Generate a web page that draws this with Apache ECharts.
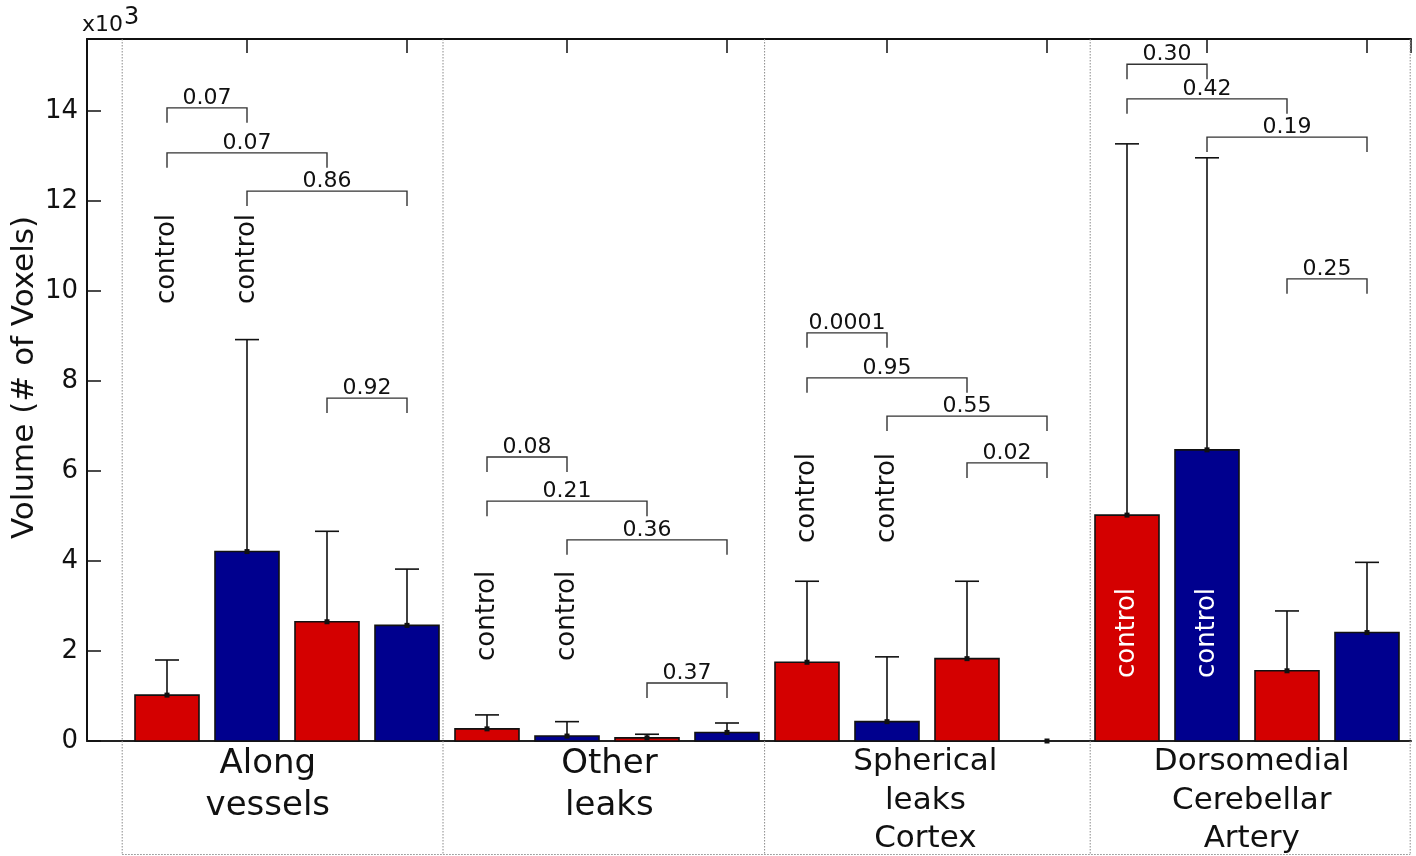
<!DOCTYPE html>
<html>
<head>
<meta charset="utf-8">
<script src="https://cdn.jsdelivr.net/npm/echarts@6/dist/echarts.min.js"></script>
<style>
html,body{margin:0;padding:0;background:#fff;}
#chart{width:1416px;height:856px;}
</style>
</head>
<body>
<div id="chart"></div>
<script>
// ---- data (values in thousands of voxels) ----
const categories = ['Along\nvessels', 'Other\nleaks', 'Spherical\nleaks\nCortex', 'Dorsomedial\nCerebellar\nArtery'];
const categoryX = [2.26, 6.53, 10.48, 14.56];
const groupEdges = [0.44, 4.45, 8.47, 12.54, 16.54];
const barX = [1, 2, 3, 4, 5, 6, 7, 8, 9, 10, 11, 12, 13, 14, 15, 16];
const means = [1.02, 4.21, 2.65, 2.57, 0.27, 0.11, 0.07, 0.19, 1.75, 0.43, 1.83, 0.00, 5.02, 6.47, 1.56, 2.41];
const upperErr = [1.80, 8.92, 4.66, 3.82, 0.58, 0.43, 0.15, 0.40, 3.55, 1.87, 3.55, 0.00, 13.27, 12.96, 2.89, 3.97];
// brackets: [from bar, to bar, level, p-value]
const brackets = [
  [1, 2, 14.07, '0.07'], [1, 3, 13.07, '0.07'], [2, 4, 12.22, '0.86'], [3, 4, 7.62, '0.92'],
  [5, 6, 6.31, '0.08'], [5, 7, 5.33, '0.21'], [6, 8, 4.47, '0.36'], [7, 8, 1.29, '0.37'],
  [9, 10, 9.07, '0.0001'], [9, 11, 8.07, '0.95'], [10, 12, 7.22, '0.55'], [11, 12, 6.18, '0.02'],
  [13, 14, 15.04, '0.30'], [13, 15, 14.27, '0.42'], [14, 16, 13.42, '0.19'], [15, 16, 10.27, '0.25']
];
// "control" labels: [bar, level, inside bar?]
const controlLabels = [
  [1, 10.71, 0], [2, 10.71, 0],
  [5, 2.78, 0], [6, 2.78, 0],
  [9, 5.40, 0], [10, 5.40, 0],
  [13, 2.40, 1], [14, 2.40, 1]
];
const yTicks = [0, 2, 4, 6, 8, 10, 12, 14];

const RED = '#d40000', BLUE = '#00008e';
const FONT = '"DejaVu Sans", "Liberation Sans", sans-serif';

const chart = echarts.init(document.getElementById('chart'), null, {renderer: 'canvas'});

const barData = barX.map((x, i) => [x, means[i], upperErr[i]]);

const option = {
  animation: false,
  backgroundColor: '#fff',
  grid: {left: 87, right: 5, top: 39, bottom: 115, containLabel: false},
  xAxis: [
    {type: 'value', position: 'bottom', min: 0, max: 16.55,
      axisLine: {show: true, onZero: false, lineStyle: {color: '#222', width: 2}},
      axisTick: {show: false}, axisLabel: {show: false}, splitLine: {show: false}},
    {type: 'value', position: 'top', min: 0, max: 16.55, interval: 2,
      axisLine: {show: true, onZero: false, lineStyle: {color: '#111', width: 2}},
      axisTick: {show: true, inside: true, length: 14, lineStyle: {color: '#111', width: 1.5}},
      axisLabel: {show: false}, splitLine: {show: false}}
  ],
  yAxis: {
    type: 'value', min: 0, max: 15.6, interval: 2,
    axisLine: {show: true, onZero: false, lineStyle: {color: '#111', width: 2}},
    axisTick: {show: true, inside: true, length: 14, lineStyle: {color: '#111', width: 1.5}},
    axisLabel: {
      margin: 9, fontSize: 26, color: '#111', fontFamily: FONT,
      formatter: v => (yTicks.indexOf(v) >= 0 ? String(v) : '')
    },
    splitLine: {show: false}
  },
  graphic: [
    {type: 'text', left: 9, top: 216, rotation: Math.PI / 2,
      style: {text: 'Volume (# of Voxels)', font: '31px ' + FONT, fill: '#111'}},
    {type: 'text', x: 82, y: 6,
      style: {text: '{a|x10}{b|3}', fill: '#111', rich: {
        a: {fontSize: 22, fontFamily: FONT, verticalAlign: 'bottom', lineHeight: 30},
        b: {fontSize: 24, fontFamily: FONT, verticalAlign: 'top', lineHeight: 30, padding: [0, 0, 10, 1]}
      }}}
  ],
  series: [
    // group boxes (dotted)
    {
      type: 'custom', clip: false, silent: true, z: 1,
      data: [0],
      renderItem: (params, api) => {
        const top = api.coord([0, 15.6])[1];
        const bottom = api.getHeight() - 1.5;
        const xs = groupEdges.map(g => api.coord([g, 0])[0]);
        const children = [];
        const ls = {stroke: '#8a8a8a', lineWidth: 1, lineDash: [1.5, 1.5], fill: null};
        xs.forEach(x => children.push({type: 'line', shape: {x1: x, y1: top, x2: x, y2: bottom}, style: ls}));
        children.push({type: 'line', shape: {x1: xs[0], y1: bottom, x2: xs[xs.length - 1], y2: bottom}, style: ls});
        return {type: 'group', children};
      }
    },
    // bars with upper error bars
    {
      type: 'custom', clip: false, z: 3,
      data: barData,
      encode: {x: 0, y: 1},
      renderItem: (params, api) => {
        const x = api.value(0), m = api.value(1), e = api.value(2);
        const p0 = api.coord([x, 0]);
        const pm = api.coord([x, m]);
        const pe = api.coord([x, e]);
        const w = api.size([0.8, 0])[0];
        const col = (params.dataIndex % 2 === 0) ? RED : BLUE;
        const children = [];
        if (m > 0) {
          children.push({type: 'rect', shape: {x: pm[0] - w / 2, y: pm[1], width: w, height: p0[1] - pm[1]},
            style: {fill: col, stroke: '#111', lineWidth: 1.6}});
        }
        if (e > m) {
          children.push({type: 'line', shape: {x1: pm[0], y1: pm[1], x2: pe[0], y2: pe[1]}, style: {stroke: '#111', lineWidth: 1.6}});
          children.push({type: 'line', shape: {x1: pe[0] - 12, y1: pe[1], x2: pe[0] + 12, y2: pe[1]}, style: {stroke: '#111', lineWidth: 1.6}});
        }
        children.push({type: 'rect', shape: {x: pm[0] - 2.5, y: pm[1] - 2.5, width: 5, height: 5}, style: {fill: '#111'}});
        return {type: 'group', children};
      }
    },
    // significance brackets
    {
      type: 'custom', clip: false, z: 4,
      data: brackets,
      renderItem: (params, api) => {
        const b = brackets[params.dataIndex];
        const p1 = api.coord([b[0], b[2]]);
        const p2 = api.coord([b[1], b[2]]);
        const drop = 15;
        return {type: 'group', children: [
          {type: 'polyline', shape: {points: [[p1[0], p1[1] + drop], [p1[0], p1[1]], [p2[0], p2[1]], [p2[0], p2[1] + drop]]},
            style: {stroke: '#333', lineWidth: 1.4, fill: null}},
          {type: 'text', x: (p1[0] + p2[0]) / 2, y: p1[1] + 1,
            style: {text: b[3], font: '22px ' + FONT, fill: '#111', align: 'center', verticalAlign: 'bottom'}}
        ]};
      }
    },
    // "control" labels
    {
      type: 'custom', clip: false, z: 5,
      data: controlLabels,
      renderItem: (params, api) => {
        const c = controlLabels[params.dataIndex];
        const p = api.coord([c[0], c[1]]);
        return {type: 'text', x: p[0], y: p[1], rotation: Math.PI / 2,
          style: {text: 'control', font: '26px ' + FONT, fill: c[2] ? '#fff' : '#111', align: 'center', verticalAlign: 'middle'}};
      }
    },
    // category labels under the axis
    {
      type: 'custom', clip: false, z: 5,
      data: categoryX,
      renderItem: (params, api) => {
        const name = categories[params.dataIndex];
        const p = api.coord([categoryX[params.dataIndex], 0]);
        const lines = name.split('\n').length;
        const fs = lines > 2 ? 31 : 34;
        const lh = lines > 2 ? 38.5 : 42;
        return {type: 'text', x: p[0], y: p[1] + 2,
          style: {text: name, font: fs + 'px ' + FONT, fill: '#111', align: 'center', verticalAlign: 'top', lineHeight: lh}};
      }
    }
  ]
};
chart.setOption(option);
</script>
</body>
</html>
